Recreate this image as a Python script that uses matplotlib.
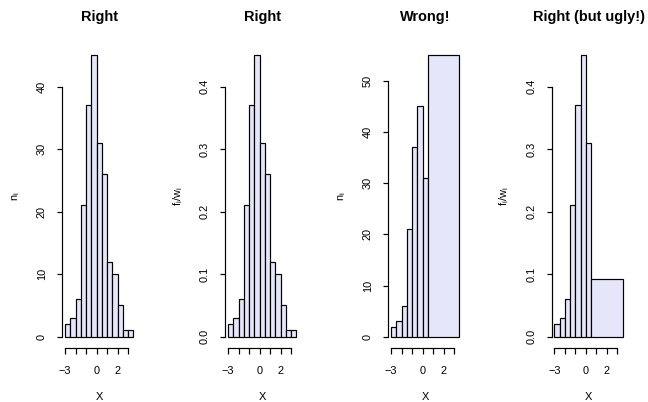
import numpy as np
import matplotlib
matplotlib.use("Agg")
import matplotlib.pyplot as plt

# ─────────────────────────────────────────────
# DATA (200 observations of X)
# ─────────────────────────────────────────────
breaks = [-3.0, -2.5, -2.0, -1.5, -1.0, -0.5, 0.0, 0.5, 1.0, 1.5, 2.0, 2.5, 3.0, 3.5]
counts = [2, 3, 6, 21, 37, 45, 31, 26, 12, 10, 5, 1, 1]

# unequal classes: last six bins merged into one
wrong_breaks = [-3.0, -2.5, -2.0, -1.5, -1.0, -0.5, 0.0, 0.5, 3.5]

titles  = ["Right", "Right", "Wrong!", "Right (but ugly!)"]
ylabels = [r"$\mathrm{n_i}$", r"$\mathrm{f_i/w_i}$", r"$\mathrm{n_i}$", r"$\mathrm{f_i/w_i}$"]
xticks  = [-3, -2, -1, 0, 1, 2, 3]
xtick_labels = ["\u22123", "", "", "0", "", "2", ""]

yticks = [
    [0, 10, 20, 30, 40],
    [0.0, 0.1, 0.2, 0.3, 0.4],
    [0, 10, 20, 30, 40, 50],
    [0.0, 0.1, 0.2, 0.3, 0.4],
]
ytick_fmt = ["{:.0f}", "{:.1f}", "{:.0f}", "{:.1f}"]

# ─────────────────────────────────────────────
# DERIVED BIN HEIGHTS
# ─────────────────────────────────────────────
breaks_a = np.array(breaks)
counts_a = np.array(counts)
n_total  = counts_a.sum()

wrong_b = np.array(wrong_breaks)
wrong_counts = np.array([
    counts_a[(breaks_a[:-1] >= lo) & (breaks_a[1:] <= hi)].sum()
    for lo, hi in zip(wrong_b[:-1], wrong_b[1:])
])

panels = [
    (breaks_a, counts_a),
    (breaks_a, counts_a / (n_total * np.diff(breaks_a))),
    (wrong_b, wrong_counts),
    (wrong_b, wrong_counts / (n_total * np.diff(wrong_b))),
]

# ─────────────────────────────────────────────
# STYLE
# ─────────────────────────────────────────────
plt.rcParams["font.family"] = ["Liberation Sans", "DejaVu Sans"]
plt.rcParams["mathtext.fontset"] = "custom"
plt.rcParams["mathtext.rm"] = "Liberation Sans"
plt.rcParams["mathtext.it"] = "Liberation Sans:italic"

W, H, DPI = 648, 402, 72
fig = plt.figure(figsize=(W / DPI, H / DPI), dpi=DPI)

LAVENDER = "#E6E6FA"
LW = 1.2
FS = 11
lefts  = [62.3, 225.3, 388.3, 551.7]
ax_w   = 73.7
top_px, bot_px = 44.0, 348.0

for i, (edges, heights) in enumerate(panels):
    ax = fig.add_axes([lefts[i] / W, 1 - bot_px / H, ax_w / W, (bot_px - top_px) / H])

    ax.bar(edges[:-1], heights, width=np.diff(edges), align="edge",
           color=LAVENDER, edgecolor="black", linewidth=LW)

    xr = edges[-1] - edges[0]
    ax.set_xlim(edges[0] - 0.04 * xr, edges[-1] + 0.04 * xr)
    ymax = heights.max()
    ax.set_ylim(-0.04 * ymax, ymax * 1.04)

    for s in ["top", "right"]:
        ax.spines[s].set_visible(False)
    ax.spines["bottom"].set_bounds(xticks[0], xticks[-1])
    ax.spines["left"].set_bounds(yticks[i][0], yticks[i][-1])
    for s in ["bottom", "left"]:
        ax.spines[s].set_linewidth(LW)

    ax.set_xticks(xticks)
    ax.set_xticklabels(xtick_labels)
    ax.set_yticks(yticks[i])
    ax.set_yticklabels([ytick_fmt[i].format(v) for v in yticks[i]],
                       rotation=90, va="center")
    ax.tick_params(length=5.5, width=LW, labelsize=FS)
    ax.tick_params(axis="x", pad=12)
    ax.tick_params(axis="y", pad=10)

    ax.set_xlabel("X", fontsize=FS, labelpad=17)
    ax.set_ylabel(ylabels[i], fontsize=FS, labelpad=15)
    ax.set_title(titles[i], fontsize=14.5, fontweight="bold", pad=23)

fig.savefig("out.png", dpi=DPI)
